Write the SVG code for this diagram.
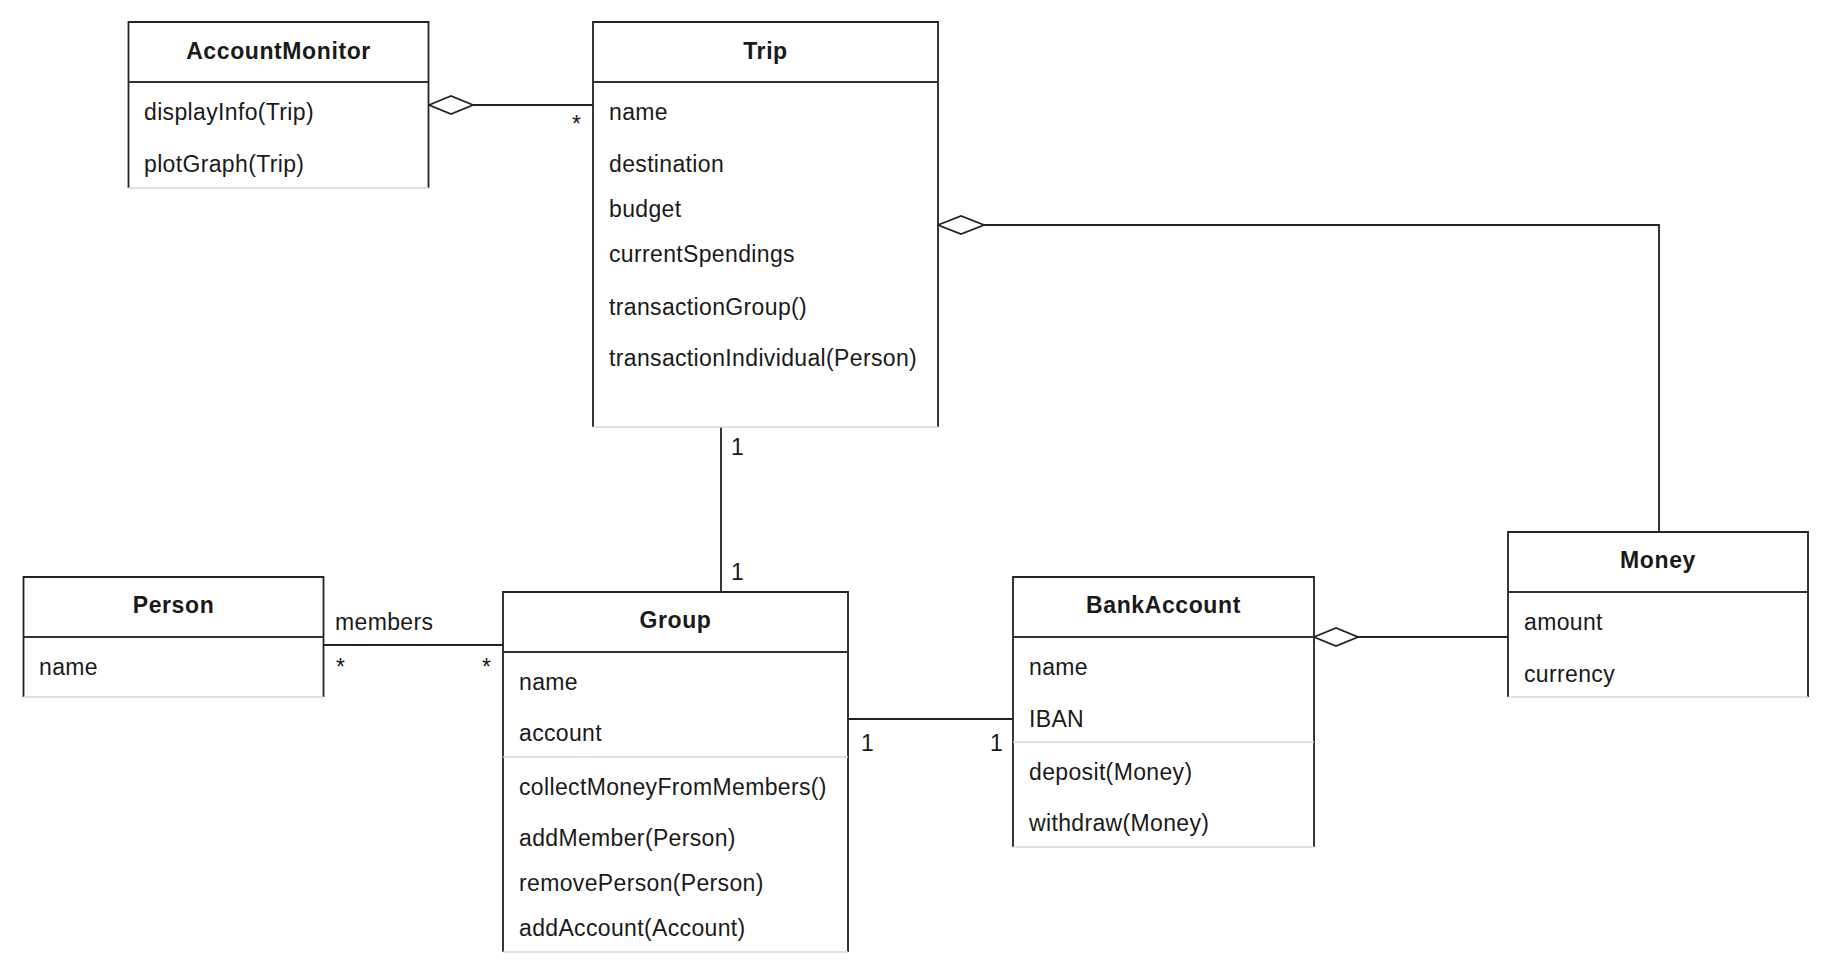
<svg xmlns="http://www.w3.org/2000/svg" width="1830" height="975" viewBox="0 0 1830 975">
<style>
.frame{fill:#fff;stroke:none}
.edge{fill:none;stroke:#222;stroke-width:1.8}
.hdr{fill:none;stroke:#333;stroke-width:2.2}
.light{fill:none;stroke:#d6d6d6;stroke-width:1.5}
.t{font-family:"Liberation Sans",Arial,sans-serif;font-size:23px;letter-spacing:0.35px;fill:#1a1a1a}
.b{font-family:"Liberation Sans",Arial,sans-serif;font-size:23px;font-weight:bold;letter-spacing:0.6px;fill:#1a1a1a;text-anchor:middle}
.conn{fill:none;stroke:#222;stroke-width:1.8}
.dia{fill:#fff;stroke:#222;stroke-width:1.8}
</style>
<rect width="1830" height="975" fill="#fff"/>

<g id="connectors">
  <line class="conn" x1="473" y1="105" x2="593" y2="105"/>
  <polygon class="dia" points="429,105 451,96 473,105 451,114"/>
  <polyline class="conn" points="984,225 1659,225 1659,532"/>
  <polygon class="dia" points="938,225 961,216 984,225 961,234"/>
  <line class="conn" x1="721" y1="427" x2="721" y2="592"/>
  <line class="conn" x1="323.5" y1="645" x2="503" y2="645"/>
  <line class="conn" x1="848" y1="719" x2="1013" y2="719"/>
  <line class="conn" x1="1358" y1="637" x2="1508" y2="637"/>
  <polygon class="dia" points="1314,637 1336,628 1358,637 1336,646"/>
  <text class="t" x="572" y="132">*</text>
  <text class="t" x="731" y="455">1</text>
  <text class="t" x="731" y="580">1</text>
  <text class="t" x="335" y="630">members</text>
  <text class="t" x="336" y="675">*</text>
  <text class="t" x="482" y="675">*</text>
  <text class="t" x="861" y="751">1</text>
  <text class="t" x="990" y="751">1</text>
</g>

<g id="AccountMonitor">
  <rect class="frame" x="128.5" y="22" width="300" height="166"/>
  <path class="edge" d="M128.5,188 V22 H428.5 V188"/>
  <line class="hdr" x1="128.5" y1="82" x2="428.5" y2="82"/>
  <line class="light" x1="128.5" y1="188" x2="428.5" y2="188"/>
  <text class="b" x="278.5" y="59">AccountMonitor</text>
  <text class="t" x="144" y="120">displayInfo(Trip)</text>
  <text class="t" x="144" y="172">plotGraph(Trip)</text>
</g>

<g id="Trip">
  <rect class="frame" x="593" y="22" width="345" height="405"/>
  <path class="edge" d="M593,427 V22 H938 V427"/>
  <line class="hdr" x1="593" y1="82" x2="938" y2="82"/>
  <line class="light" x1="593" y1="427" x2="938" y2="427"/>
  <text class="b" x="765.5" y="59">Trip</text>
  <text class="t" x="609" y="120">name</text>
  <text class="t" x="609" y="172">destination</text>
  <text class="t" x="609" y="217">budget</text>
  <text class="t" x="609" y="262">currentSpendings</text>
  <text class="t" x="609" y="315">transactionGroup()</text>
  <text class="t" x="609" y="366">transactionIndividual(Person)</text>
</g>

<g id="Person">
  <rect class="frame" x="23.5" y="577" width="300" height="120"/>
  <path class="edge" d="M23.5,697 V577 H323.5 V697"/>
  <line class="hdr" x1="23.5" y1="637" x2="323.5" y2="637"/>
  <line class="light" x1="23.5" y1="697" x2="323.5" y2="697"/>
  <text class="b" x="173.5" y="613">Person</text>
  <text class="t" x="39" y="675">name</text>
</g>

<g id="Group">
  <rect class="frame" x="503" y="592" width="345" height="360"/>
  <path class="edge" d="M503,952 V592 H848 V952"/>
  <line class="hdr" x1="503" y1="652" x2="848" y2="652"/>
  <line class="light" x1="503" y1="757" x2="848" y2="757"/>
  <line class="light" x1="503" y1="952" x2="848" y2="952"/>
  <text class="b" x="675.5" y="628">Group</text>
  <text class="t" x="519" y="690">name</text>
  <text class="t" x="519" y="741">account</text>
  <text class="t" x="519" y="795">collectMoneyFromMembers()</text>
  <text class="t" x="519" y="846">addMember(Person)</text>
  <text class="t" x="519" y="891">removePerson(Person)</text>
  <text class="t" x="519" y="936">addAccount(Account)</text>
</g>

<g id="BankAccount">
  <rect class="frame" x="1013" y="577" width="301" height="270"/>
  <path class="edge" d="M1013,847 V577 H1314 V847"/>
  <line class="hdr" x1="1013" y1="637" x2="1314" y2="637"/>
  <line class="light" x1="1013" y1="742" x2="1314" y2="742"/>
  <line class="light" x1="1013" y1="847" x2="1314" y2="847"/>
  <text class="b" x="1163.5" y="613">BankAccount</text>
  <text class="t" x="1029" y="675">name</text>
  <text class="t" x="1029" y="727">IBAN</text>
  <text class="t" x="1029" y="780">deposit(Money)</text>
  <text class="t" x="1029" y="831">withdraw(Money)</text>
</g>

<g id="Money">
  <rect class="frame" x="1508" y="532" width="300" height="165"/>
  <path class="edge" d="M1508,697 V532 H1808 V697"/>
  <line class="hdr" x1="1508" y1="592" x2="1808" y2="592"/>
  <line class="light" x1="1508" y1="697" x2="1808" y2="697"/>
  <text class="b" x="1658" y="568">Money</text>
  <text class="t" x="1524" y="630">amount</text>
  <text class="t" x="1524" y="682">currency</text>
</g>
</svg>
